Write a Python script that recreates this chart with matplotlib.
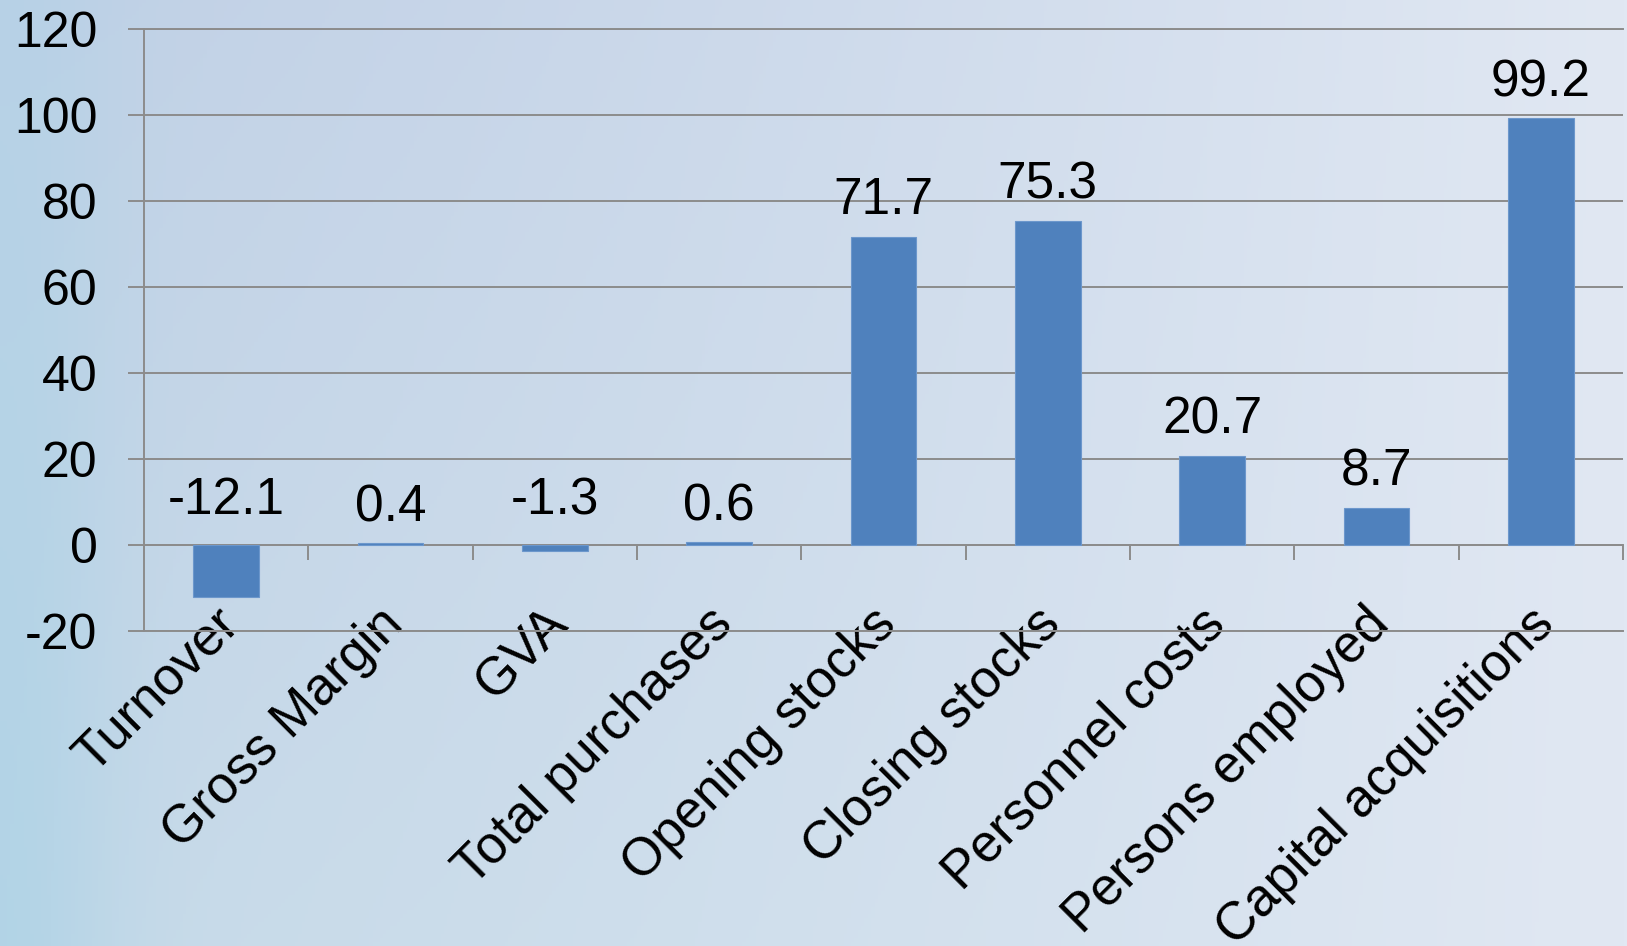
import numpy as np
import matplotlib
matplotlib.use("Agg")
import matplotlib.pyplot as plt
from matplotlib.transforms import ScaledTranslation

# ---- data ----
categories = ["Turnover", "Gross Margin", "GVA", "Total purchases", "Opening stocks",
              "Closing stocks", "Personnel costs", "Persons employed", "Capital acquisitions"]
values = [-12.1, 0.4, -1.3, 0.6, 71.7, 75.3, 20.7, 8.7, 99.2]
value_labels = ["-12.1", "0.4", "-1.3", "0.6", "71.7", "75.3", "20.7", "8.7", "99.2"]
y_ticks = [-20, 0, 20, 40, 60, 80, 100, 120]

plt.rcParams["font.family"] = ["Liberation Sans", "DejaVu Sans"]
plt.rcParams["axes.unicode_minus"] = False

W, H, DPI = 1627, 946, 100
fig = plt.figure(figsize=(W / DPI, H / DPI), dpi=DPI)

# ---- background gradient ----
bg = fig.add_axes([0, 0, 1, 1], zorder=-10)
ny, nx = 240, 480
xx = np.linspace(0, 1, nx)[None, :]
yy = np.linspace(0, 1, ny)[:, None]
mid = np.array([193, 209, 230]) / 255
right = np.array([225, 232, 243]) / 255
cyan = np.array([172, 210, 230]) / 255
t = np.clip(xx, 0, 1) ** 1.3
img = mid[None, None, :] * (1 - t[..., None]) + right[None, None, :] * t[..., None]
img = np.broadcast_to(img, (ny, nx, 3)).copy()
img += (yy[..., None] * np.array([0.02, 0.035, 0.01])[None, None, :]) * (1 - t[..., None])
wl = (0.75 * np.exp(-(xx / 0.07) ** 2) * (0.6 + 0.4 * yy))[..., None]
img = img * (1 - wl) + cyan[None, None, :] * wl
img = np.clip(img, 0, 1)
bg.imshow(img, aspect="auto", extent=[0, 1, 0, 1], origin="upper")
bg.axis("off")

# ---- main axes ----
GRID = "#8c8c8c"
ax = fig.add_axes([144 / W, 1 - 631 / H, (1623 - 144) / W, (631 - 29) / H])
ax.set_facecolor("none")
x = np.arange(len(categories))
ax.bar(x, values, width=0.4, color="#4F81BD", edgecolor="#6c97cc", linewidth=0.8, zorder=3)
ax.set_xlim(-0.5, len(categories) - 0.5)
ax.set_ylim(y_ticks[0], y_ticks[-1])
ax.set_yticks(y_ticks)
ax.yaxis.grid(True, color=GRID, linewidth=1.4)
ax.set_axisbelow(True)
for s in ["top", "bottom", "left"]:
    ax.spines[s].set_color(GRID)
    ax.spines[s].set_linewidth(1.4)
ax.spines["right"].set_visible(False)
ax.tick_params(axis="y", length=11.5, width=1.4, color=GRID, pad=22, labelsize=36)

ax.set_xticks(x)
ax.set_xticklabels(categories, rotation=45, ha="right", va="center",
                   rotation_mode="anchor", fontsize=38)
ax.tick_params(axis="x", length=0, pad=0)
off = ScaledTranslation(5 / DPI, 15 / DPI, fig.dpi_scale_trans)
for lab in ax.get_xticklabels():
    lab.set_transform(lab.get_transform() + off)

# category axis line at zero with boundary tick marks
zero_frac = (0 - y_ticks[0]) / (y_ticks[-1] - y_ticks[0])
sec = ax.secondary_xaxis(location=zero_frac)
sec.set_xticks(np.arange(-0.5, len(categories), 1.0))
sec.set_xticklabels([])
sec.tick_params(direction="out", length=11, width=1.4, color=GRID)
for s in sec.spines.values():
    s.set_color(GRID)
    s.set_linewidth(1.4)

# data labels
for xi, v, lbl in zip(x, values, value_labels):
    dy = 16 if v >= 0 else 22
    ax.annotate(lbl, xy=(xi, max(v, 0)), xytext=(0, dy), textcoords="offset points",
                ha="center", va="baseline", fontsize=37, zorder=5)

fig.savefig("out.png", dpi=DPI)
